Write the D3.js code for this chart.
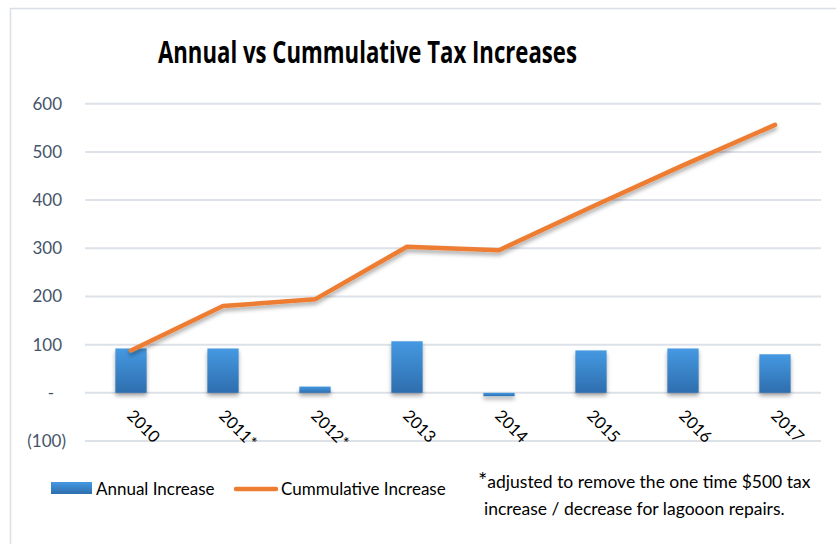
<!DOCTYPE html>
<html>
<head>
<meta charset="utf-8">
<script src="https://cdn.jsdelivr.net/npm/d3@7"></script>
<style>
  html, body { margin: 0; padding: 0; background: #ffffff; }
  svg { display: block; }
</style>
</head>
<body>
<svg id="chart" width="836" height="544"></svg>
<script>
// Tax increase per year and running total
const years = ["2010", "2011*", "2012*", "2013", "2014", "2015", "2016", "2017"];
const annualIncrease = [92, 92, 13, 107, -7, 88, 92, 80];
const cumulativeIncrease = [88, 180, 194, 303, 296, 385, 472, 556];
const yTicks = [-100, 0, 100, 200, 300, 400, 500, 600];
const yTickLabels = ["(100)", "-", "100", "200", "300", "400", "500", "600"];

const svg = d3.select("#chart");
const plot = { left: 85, right: 821, top: 103.7, bottom: 441 };

const defs = svg.append("defs");
function barGradient(id) {
  const g = defs.append("linearGradient")
    .attr("id", id).attr("x1", 0).attr("y1", 0).attr("x2", 0).attr("y2", 1);
  g.append("stop").attr("offset", "0%").attr("stop-color", "#4599e2");
  g.append("stop").attr("offset", "100%").attr("stop-color", "#2e6eae");
}
barGradient("barFill");
barGradient("legendFill");

const shadow = defs.append("filter").attr("id", "shadow")
  .attr("x", "-20%").attr("y", "-20%").attr("width", "140%").attr("height", "150%");
shadow.append("feDropShadow")
  .attr("dx", 0).attr("dy", 3).attr("stdDeviation", 2)
  .attr("flood-color", "#000").attr("flood-opacity", 0.35);

// Outer frame of the chart area
svg.append("rect")
  .attr("x", 10.5).attr("y", 8.5).attr("width", 840).attr("height", 560)
  .attr("fill", "#ffffff").attr("stroke", "#d9dee7").attr("stroke-width", 1.5);

const x = d3.scaleBand().domain(years).range([plot.left, plot.right]).paddingInner(0.66).paddingOuter(0.33);
const y = d3.scaleLinear().domain([-100, 600]).range([plot.bottom, plot.top]);

// Horizontal gridlines
svg.append("g")
  .selectAll("line").data(yTicks).join("line")
  .attr("x1", plot.left).attr("x2", plot.right)
  .attr("y1", d => y(d)).attr("y2", d => y(d))
  .attr("stroke", "#dde1e8").attr("stroke-width", 2);

// Value axis labels
const yAxis = d3.axisLeft(y).tickValues(yTicks)
  .tickFormat((d, i) => yTickLabels[i]).tickSize(0).tickPadding(0);
const yG = svg.append("g").attr("transform", "translate(62,0)").call(yAxis);
yG.select(".domain").remove();
yG.selectAll("text")
  .attr("font-family", "Lato, 'Open Sans', sans-serif")
  .attr("font-size", 17).attr("fill", "#44546a")
  .attr("dx", d => d === -100 ? 4 : (d === 0 ? -8 : 0));

// Annual bars
svg.append("g").attr("filter", "url(#shadow)")
  .selectAll("rect").data(annualIncrease).join("rect")
  .attr("x", (d, i) => x(years[i]))
  .attr("width", x.bandwidth())
  .attr("y", d => y(Math.max(0, d)))
  .attr("height", d => Math.abs(y(d) - y(0)))
  .attr("fill", "url(#barFill)");

// Cumulative line
const line = d3.line()
  .x((d, i) => x(years[i]) + x.bandwidth() / 2)
  .y(d => y(d));
svg.append("path")
  .datum(cumulativeIncrease)
  .attr("d", line)
  .attr("fill", "none")
  .attr("stroke", "#ed7d31").attr("stroke-width", 4.5)
  .attr("stroke-linecap", "round").attr("stroke-linejoin", "round")
  .attr("filter", "url(#shadow)");

// Category labels, rotated
const xAxis = d3.axisBottom(x).tickSize(0).tickPadding(0);
const xG = svg.append("g").attr("transform", `translate(0,${y(0)})`).call(xAxis);
xG.select(".domain").remove();
xG.selectAll("text")
  .attr("font-family", "Lato, 'Open Sans', sans-serif")
  .attr("font-size", 16.5).attr("fill", "#000")
  .attr("text-anchor", "start")
  .attr("dy", 0).attr("y", 0)
  .attr("transform", "translate(-5,24) rotate(45)");

// Title
svg.append("text")
  .attr("x", 158).attr("y", 63)
  .attr("font-family", "'Liberation Sans Narrow', 'Open Sans', sans-serif")
  .attr("font-weight", "bold").attr("font-size", 31).attr("fill", "#000")
  .attr("textLength", 419).attr("lengthAdjust", "spacingAndGlyphs")
  .text("Annual  vs Cummulative  Tax  Increases");

// Legend
const legendFont = "'Liberation Sans Narrow', Lato, sans-serif";
svg.append("rect").attr("x", 51).attr("y", 482).attr("width", 41).attr("height", 12)
  .attr("fill", "url(#legendFill)");
svg.append("text").attr("x", 96).attr("y", 495)
  .attr("font-family", legendFont).attr("font-size", 17).attr("fill", "#000")
  .text("Annual Increase");
svg.append("line").attr("x1", 236).attr("x2", 276).attr("y1", 489).attr("y2", 489)
  .attr("stroke", "#ed7d31").attr("stroke-width", 4.5).attr("stroke-linecap", "round");
svg.append("text").attr("x", 281).attr("y", 495)
  .attr("font-family", legendFont).attr("font-size", 17).attr("fill", "#000")
  .text("Cummulative Increase");

// Footnote
const note = svg.append("text")
  .attr("font-family", legendFont).attr("font-size", 17.5).attr("fill", "#000");
note.append("tspan").attr("x", 478).attr("y", 488).attr("font-size", 22).text("*");
note.append("tspan").text("adjusted to remove the one time $500 tax");
note.append("tspan").attr("x", 484).attr("y", 515).text("increase / decrease for lagooon repairs.");
</script>
</body>
</html>
